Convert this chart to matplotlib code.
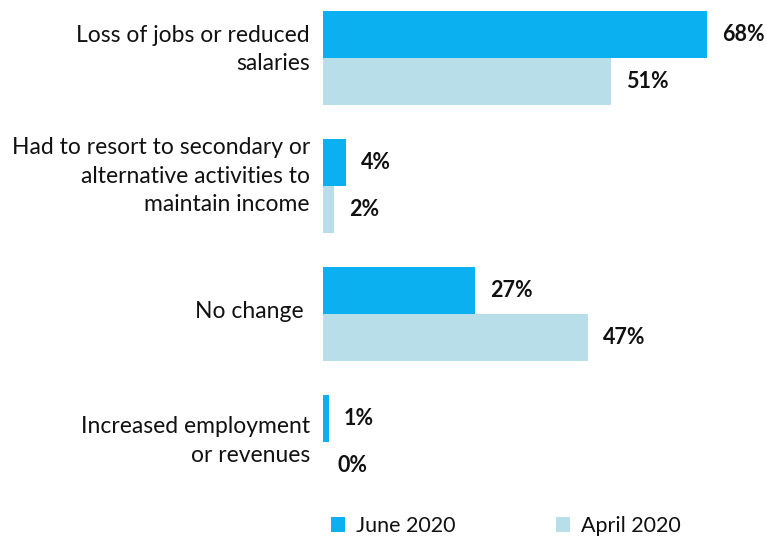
import matplotlib
matplotlib.use("Agg")
import matplotlib.pyplot as plt
import matplotlib.transforms as mtransforms
from matplotlib.patches import Patch
import numpy as np

categories = [
    "Loss of jobs or reduced\nsalaries",
    "Had to resort to secondary or\nalternative activities to\nmaintain income",
    "No change ",
    "Increased employment\nor revenues",
]
june_2020 = [68, 4, 27, 1]
april_2020 = [51, 2, 47, 0]
series_names = ["June 2020", "April 2020"]

june_color = "#0AB0EF"
april_color = "#B8DEE9"

plt.rcParams["font.family"] = ["Lato", "DejaVu Sans"]

W, H = 766, 539
fig = plt.figure(figsize=(W / 100, H / 100), dpi=100)

# axes frame in pixel terms: x=0 at 323 px, 5.647 px per percent
x0_px = 323
px_per_pct = 5.647
ax_left = x0_px / W
ax = fig.add_axes([ax_left, 1 - 500 / H, 1 - ax_left, 500 / H])
ax.set_xlim(0, (W - x0_px) / px_per_pct)
ax.set_ylim(3 + (500 - 442) / 128, -58 / 128)

y = np.arange(len(categories))
bar_h = 47 / 128
ax.barh(y - bar_h / 2, june_2020, height=bar_h, color=june_color, linewidth=0)
ax.barh(y + bar_h / 2, april_2020, height=bar_h, color=april_color, linewidth=0)

label_offset = 15 / px_per_pct
for yi, v in zip(y - bar_h / 2, june_2020):
    ax.text(v + label_offset, yi, f"{v}%", va="center", ha="left",
            fontsize=15.5, fontweight="bold", color="#111111")
for yi, v in zip(y + bar_h / 2, april_2020):
    ax.text(v + label_offset, yi, f"{v}%", va="center", ha="left",
            fontsize=15.5, fontweight="bold", color="#111111")

# category labels, right-aligned left of the bars, nudged upward (points)
label_lift = [6, 7, 1.5, 0.5]
base = mtransforms.blended_transform_factory(ax.transAxes, ax.transData)
for yi, text, lift in zip(y, categories, label_lift):
    tr = mtransforms.offset_copy(base, fig=fig, x=-9.5, y=lift, units="points")
    ax.text(0, yi, text, transform=tr, ha="right", va="center", multialignment="right",
            fontsize=16.5, color="#111111", linespacing=1.45)

ax.set_yticks([])
ax.set_xticks([])
for s in ax.spines.values():
    s.set_visible(False)

handles = [Patch(facecolor=june_color, edgecolor="none"),
           Patch(facecolor=april_color, edgecolor="none")]
fig.legend(handles, series_names, loc="center", bbox_to_anchor=(506 / W, 1 - 526 / H),
           ncol=2, frameon=False, fontsize=15.5, handlelength=0.65, handleheight=0.75,
           handletextpad=0.5, columnspacing=4.7, labelcolor="#111111")

fig.savefig("out.png", dpi=100)
